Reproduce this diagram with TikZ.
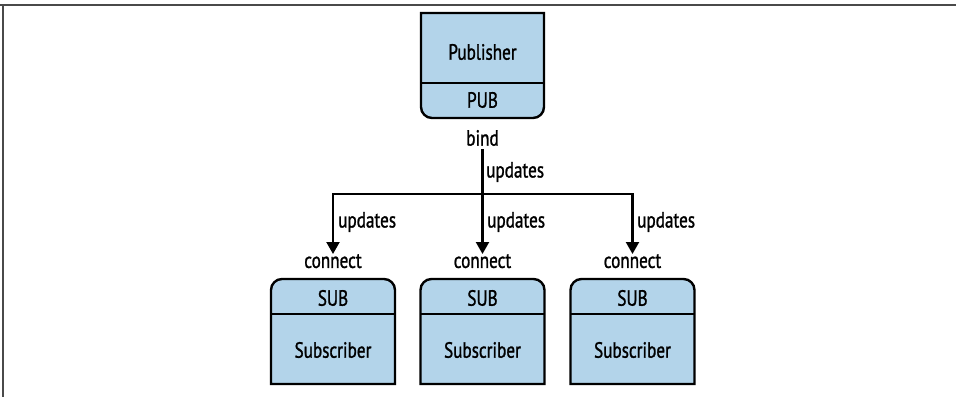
\documentclass[tikz,border=0pt]{standalone}
\usepackage{fontspec}
\setmainfont[FakeStretch=0.78,FakeBold=1.2]{PT Sans}
\usetikzlibrary{arrows.meta}
\definecolor{boxfill}{HTML}{B3D4EA}
\definecolor{framegray}{HTML}{4A4A4A}
\tikzset{
  boxline/.style={draw=black,line width=2.4pt,fill=boxfill},
  divline/.style={draw=black,line width=2.2pt},
  lbl/.style={font=\fontsize{22}{25}\selectfont,inner sep=0pt},
  conn/.style={draw=black,line width=2.2pt},
  arr/.style={conn,-{Triangle[length=12pt,width=13pt]}},
}
\begin{document}
\begin{tikzpicture}[x=1pt,y=1pt]
\useasboundingbox (0,0) rectangle (956,397);
% frame
\draw[framegray,line width=1.6pt] (0,392) -- (956,392);
\draw[framegray,line width=1.6pt] (3,392) -- (3,0);
% publisher box
\path[boxline] (421,384) -- (544,384) -- (544,290) arc[start angle=0,end angle=-90,radius=11] -- (432,279) arc[start angle=270,end angle=180,radius=11] -- cycle;
\draw[divline] (421,314) -- (544,314);
\node[lbl] (pub) at (482.5,345) {Publisher};
\node[lbl] (pubsock) at (482.5,297) {PUB};
\node[lbl] (bind) at (482.5,259) {bind};
% subscriber boxes
\foreach \cx/\nm in {333/s1,482.5/s2,632.5/s3}{
  \path[boxline] (\cx-62,13) -- (\cx-62,107) arc[start angle=180,end angle=90,radius=11] -- (\cx+51,118) arc[start angle=90,end angle=0,radius=11] -- (\cx+62,13) -- cycle;
  \draw[divline] (\cx-62,83) -- (\cx+62,83);
  \node[lbl] (\nm sock) at (\cx,99) {SUB};
  \node[lbl] (\nm) at (\cx,47) {Subscriber};
  \node[lbl,anchor=north] (\nm con) at (\cx,143) {connect};
}
% connectors
\coordinate (j) at (482.5,203);
\draw[conn] (bind.south) ++(0,-3) coordinate (b0) -- (j);
\draw[arr] (j) -- (s2con.north);
\draw[arr] (j) -| (s1con.north);
\draw[arr] (j) -| (s3con.north);
\node[lbl,anchor=west] (u0) at (486,225) {updates};
\node[lbl,anchor=west] (u1) at (338,175) {updates};
\node[lbl,anchor=west] (u2) at (487,175) {updates};
\node[lbl,anchor=west] (u3) at (637,175) {updates};
\end{tikzpicture}
\end{document}
